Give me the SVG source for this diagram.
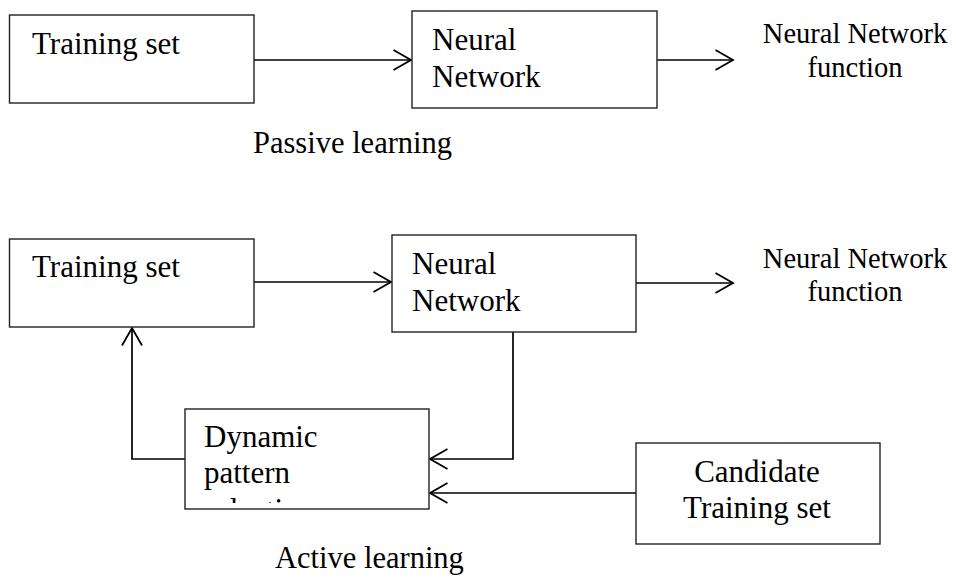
<svg xmlns="http://www.w3.org/2000/svg" width="956" height="578" viewBox="0 0 956 578">
<style>
.box{fill:#fff;stroke:#222;stroke-width:1.4}
.t{font-family:"Liberation Serif","Times New Roman",serif;font-size:31px;fill:#000}
.lbl{font-family:"Liberation Serif","Times New Roman",serif;font-size:28.5px;fill:#000}
.cap{font-family:"Liberation Serif","Times New Roman",serif;font-size:30.5px;fill:#000}
.c{fill:none;stroke:#000;stroke-width:1.7}
</style>
<defs>
<marker id="arr" markerUnits="userSpaceOnUse" markerWidth="22" markerHeight="24" refX="18" refY="11" orient="auto">
<path d="M0.5,1 L18,11 L0.5,21" fill="none" stroke="#000" stroke-width="1.8"/>
</marker>
<clipPath id="dynclip"><rect x="185" y="409" width="244" height="94"/></clipPath>
</defs>
<g id="connectors">
<path class="c" d="M254,60 H411" marker-end="url(#arr)"/>
<path class="c" d="M657,60 H733" marker-end="url(#arr)"/>
<path class="c" d="M254,282 H391" marker-end="url(#arr)"/>
<path class="c" d="M636,283 H733" marker-end="url(#arr)"/>
<path class="c" d="M513,332 V459 H430" marker-end="url(#arr)"/>
<path class="c" d="M636,493 H430" marker-end="url(#arr)"/>
<path class="c" d="M185,459 H132 V328" marker-end="url(#arr)"/>
</g>
<g id="training-top">
<rect class="box" x="9.5" y="15" width="244.5" height="88"/>
<text class="t" x="32" y="54">Training set</text>
</g>
<g id="nn-top">
<rect class="box" x="412" y="11" width="245" height="97"/>
<text class="t" x="432" y="50">Neural</text>
<text class="t" x="432" y="87">Network</text>
</g>
<g id="nnf-top">
<text class="lbl" x="855" y="43" text-anchor="middle">Neural Network</text>
<text class="lbl" x="855" y="77" text-anchor="middle">function</text>
</g>
<g id="passive-label">
<text class="cap" x="253" y="153">Passive learning</text>
</g>
<g id="training-bottom">
<rect class="box" x="9.5" y="239" width="244.5" height="88"/>
<text class="t" x="32" y="277">Training set</text>
</g>
<g id="nn-bottom">
<rect class="box" x="392" y="235" width="244" height="97"/>
<text class="t" x="412" y="274">Neural</text>
<text class="t" x="412" y="311">Network</text>
</g>
<g id="nnf-bottom">
<text class="lbl" x="855" y="268" text-anchor="middle">Neural Network</text>
<text class="lbl" x="855" y="301" text-anchor="middle">function</text>
</g>
<g id="dynamic">
<rect class="box" x="185" y="409" width="244" height="100"/>
<g clip-path="url(#dynclip)">
<text class="t" x="204" y="447">Dynamic</text>
<text class="t" x="204" y="483">pattern</text>
<text class="t" x="204" y="520">selection</text>
</g>
</g>
<g id="candidate">
<rect class="box" x="636" y="443" width="244" height="101"/>
<text class="t" x="757" y="482" text-anchor="middle">Candidate</text>
<text class="t" x="757" y="518" text-anchor="middle">Training set</text>
</g>
<g id="active-label">
<text class="cap" x="275" y="568">Active learning</text>
</g>
</svg>
